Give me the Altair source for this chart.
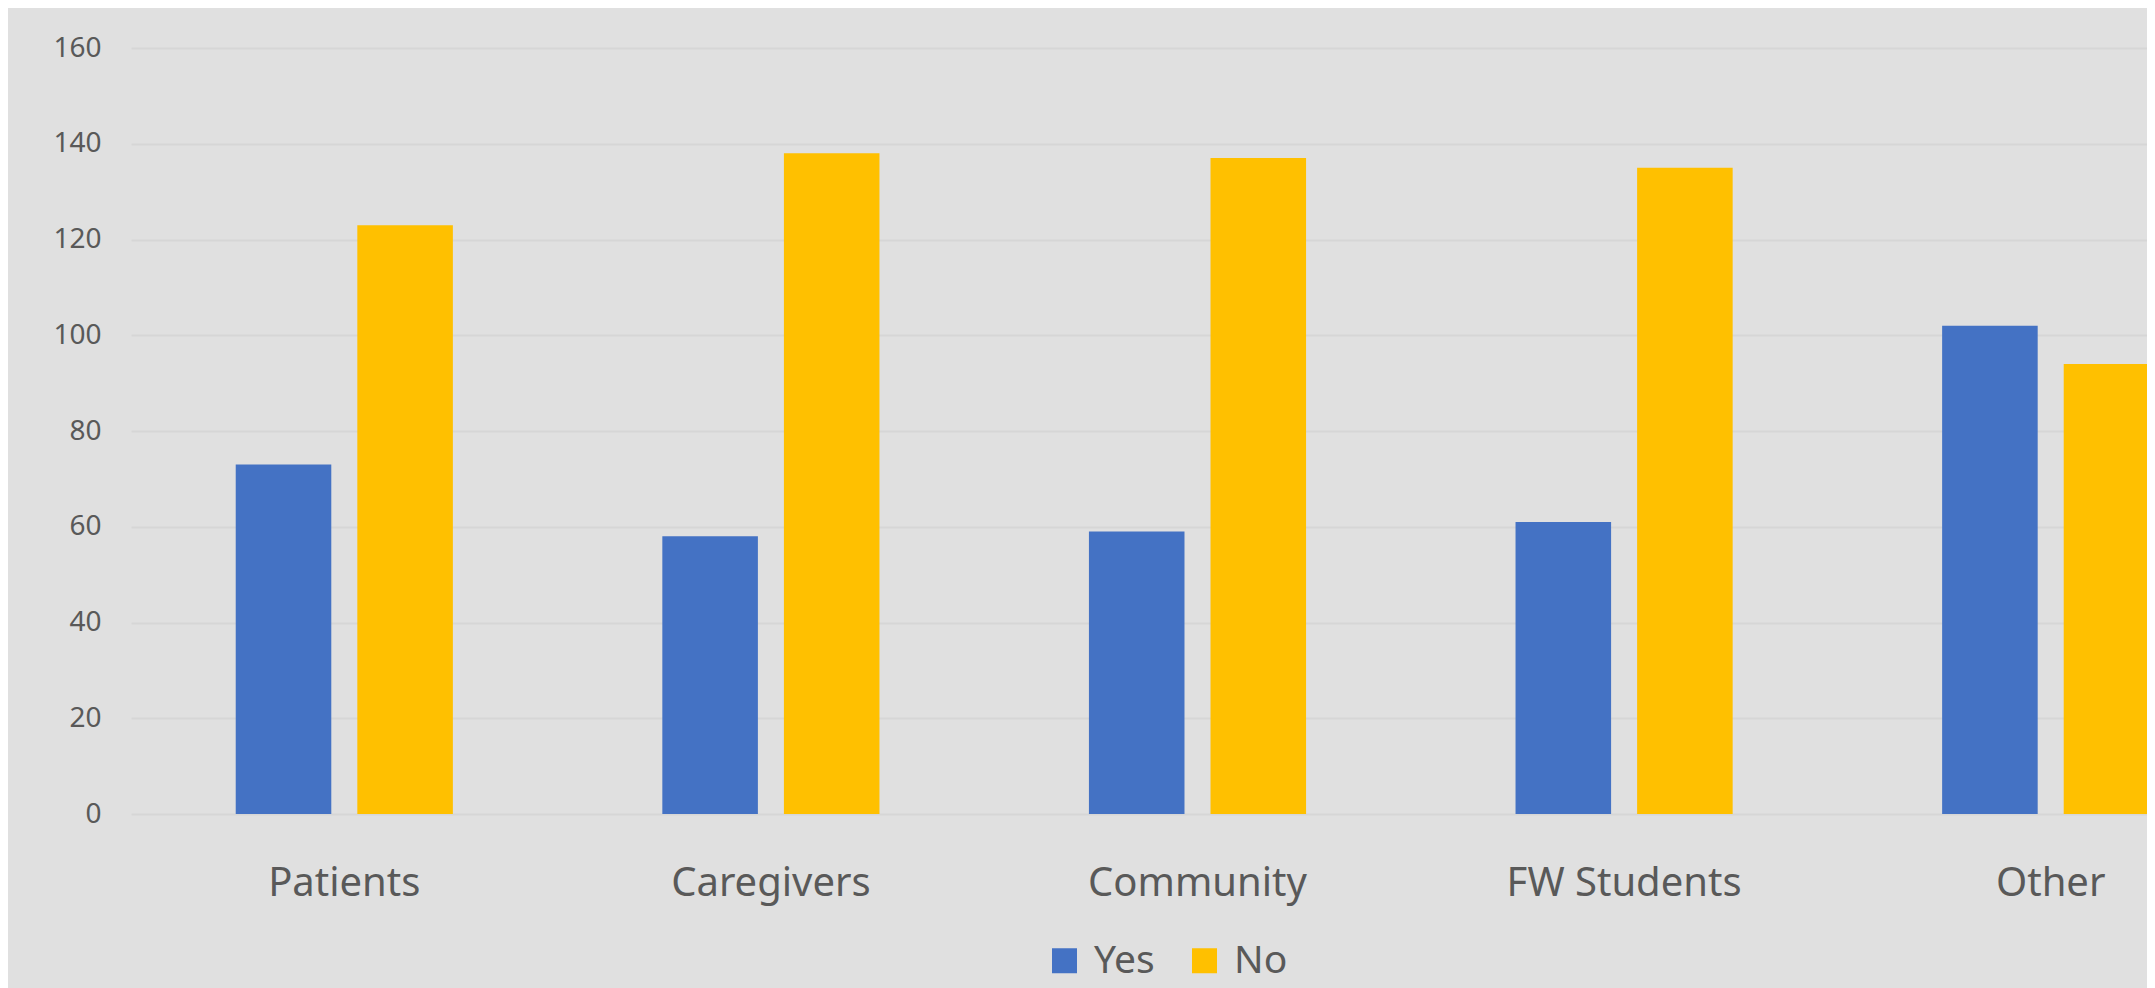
import altair as alt
import pandas as pd

categories = ["Patients", "Caregivers", "Community", "FW Students", "Other"]
series = ["Yes", "No"]
yes_values = [73, 58, 59, 61, 102]
no_values = [123, 138, 137, 135, 94]
y_ticks = [0, 20, 40, 60, 80, 100, 120, 140, 160]
colors = ["#4472C4", "#FFC000"]

rows = []
for c, yv, nv in zip(categories, yes_values, no_values):
    rows.append({"category": c, "series": "Yes", "value": yv})
    rows.append({"category": c, "series": "No", "value": nv})
df = pd.DataFrame(rows)

FONT = "Noto Sans"
TXT = "#595959"

chart = alt.Chart(df).mark_bar(clip=True).encode(
    x=alt.X(
        "category:N",
        sort=categories,
        scale=alt.Scale(range=[0, 2133], paddingInner=0.491, paddingOuter=0.2455),
        axis=alt.Axis(
            title=None, labelAngle=0, labelFontSize=40, labelColor=TXT, labelFont=FONT,
            ticks=False, tickSize=0, domain=False, labelPadding=81, labelLimit=0,
            labelBaseline="alphabetic", grid=False,
        ),
    ),
    xOffset=alt.XOffset("series:N", sort=series, scale=alt.Scale(paddingInner=0.214)),
    y=alt.Y(
        "value:Q",
        scale=alt.Scale(domain=[0, 160]),
        axis=alt.Axis(
            title=None, values=y_ticks, labelFontSize=28, labelColor=TXT, labelFont=FONT,
            ticks=False, tickSize=0, domain=False, labelPadding=30,
            gridColor="#D6D6D6", gridWidth=2,
        ),
    ),
    color=alt.Color(
        "series:N",
        sort=series,
        scale=alt.Scale(domain=series, range=colors),
        legend=alt.Legend(
            title=None, orient="none", legendX=914, legendY=893, direction="horizontal",
            symbolType="square", symbolSize=625, symbolStrokeWidth=0,
            labelFontSize=39, labelColor=TXT, labelFont=FONT,
            columnPadding=30, labelOffset=10,
        ),
    ),
).properties(
    width=2016,
    height=766,
    background="#E0E0E0",
    autosize=alt.AutoSizeParams(type="none"),
    padding={"left": 123, "top": 40, "right": 0, "bottom": 174},
).configure_view(stroke=None)

chart.save("out.html", embed_options={"renderer": "svg", "actions": False})
